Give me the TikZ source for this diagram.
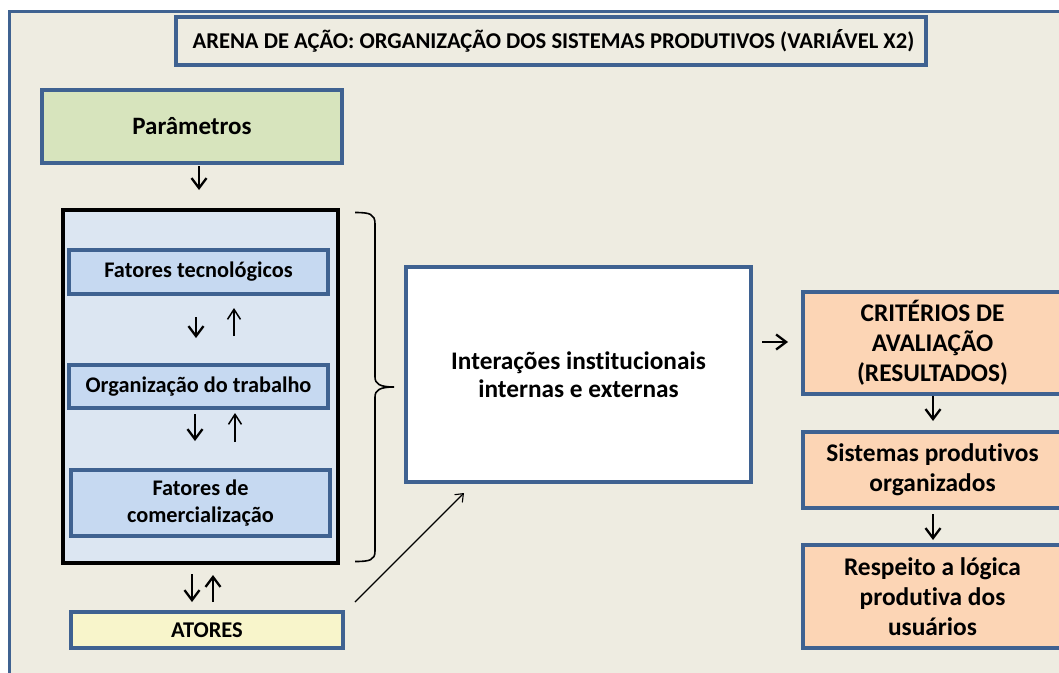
\documentclass[tikz,border=0pt]{standalone}
\usepackage{fontspec}
\setmainfont[Ligatures=NoCommon]{Carlito}
\usetikzlibrary{arrows.meta}
\definecolor{bgtan}{HTML}{EEECE1}
\definecolor{bord}{HTML}{3F6291}
\definecolor{green1}{HTML}{D7E4BD}
\definecolor{cont}{HTML}{DCE6F2}
\definecolor{inner}{HTML}{C6D9F1}
\definecolor{yel}{HTML}{F8F5CB}
\definecolor{orng}{HTML}{FCD5B5}
\begin{document}
\begin{tikzpicture}[x=1pt,y=-1pt,
  box/.style={draw=bord, line width=3.2, rectangle, inner sep=0, align=center, font=\bfseries\fontsize{22.3}{26.5}\selectfont},
  arr/.style={line width=2.3, -{Straight Barb[length=10,width=15,line width=2.3]}},
  thinarr/.style={line width=1.5, -{Straight Barb[length=10,width=13,line width=1.5]}}]
\useasboundingbox (0,0) rectangle (1059,672);
\clip (0,0) rectangle (1059,672);
\fill[white] (0,0) rectangle (1059,672);
\draw[fill=bgtan, draw=bord, line width=3.4] (9.5,11.5) rectangle (1090,700);

\node[box, fill=bgtan, minimum width=750, minimum height=48, font=\bfseries\fontsize{22.6}{26}\selectfont] (title) at (551,41) {\hspace{5pt}ARENA DE AÇÃO: ORGANIZAÇÃO DOS SISTEMAS PRODUTIVOS (VARIÁVEL X2)};
\node[box, fill=green1, minimum width=300, minimum height=73, font=\bfseries\fontsize{25}{29}\selectfont] (param) at (192,126.5) {Parâmetros};
\node[draw=black, line width=3.4, fill=cont, minimum width=275, minimum height=353, inner sep=0] (container) at (200.5,386.5) {};
\node[box, fill=inner, minimum width=259, minimum height=44] (ft) at (198.5,272) {Fatores tecnológicos};
\node[box, fill=inner, minimum width=259, minimum height=43] (ot) at (198.5,386.5) {Organização do trabalho};
\node[box, fill=inner, minimum width=259, minimum height=66] (fc) at (200.5,503) {Fatores de\\comercialização};
\node[box, fill=yel, minimum width=272, minimum height=36, font=\bfseries\fontsize{22.5}{26}\selectfont] (atores) at (207,630) {ATORES};
\node[box, fill=white, minimum width=345, minimum height=215, font=\bfseries\fontsize{25.3}{28}\selectfont] (inter) at (578.5,374.5) {Interações institucionais\\internas e externas};
\node[box, fill=orng, minimum width=259, minimum height=102, font=\bfseries\fontsize{25.4}{30}\selectfont] (crit) at (932.5,343) {CRITÉRIOS DE\\AVALIAÇÃO\\(RESULTADOS)};
\node[box, fill=orng, minimum width=259, minimum height=76, font=\bfseries\fontsize{25.4}{30}\selectfont] (sist) at (932.5,470) {Sistemas produtivos\\organizados};
\node[box, fill=orng, minimum width=259, minimum height=103, font=\bfseries\fontsize{25.4}{30}\selectfont] (resp) at (932.5,596.5) {Respeito a lógica\\produtiva dos\\usuários};

% brace
\draw[line width=1.6] (355,212.5) .. controls (370,212.5) and (375,214) .. (375,224)
  -- (375,377) .. controls (375,384) and (380,387) .. (394,387)
  .. controls (380,387) and (375,390) .. (375,397)
  -- (375,551) .. controls (375,560) and (370,561.5) .. (355,561.5);

% arrow coordinates
\coordinate (a1s) at (199,166); \coordinate (a1e) at (199,190);
\coordinate (a2s) at (196,317); \coordinate (a2e) at (196,338);
\coordinate (a3s) at (234,336); \coordinate (a3e) at (234,308);
\coordinate (a4s) at (195,414); \coordinate (a4e) at (195,441);
\coordinate (a5s) at (235,442); \coordinate (a5e) at (235,413);
\coordinate (a6s) at (192,574); \coordinate (a6e) at (192,602);
\coordinate (a7s) at (213,602); \coordinate (a7e) at (213,575);
\coordinate (a8s) at (762,342); \coordinate (a8e) at (788,342);
\coordinate (a9s) at (933,396); \coordinate (a9e) at (933,421);
\coordinate (a10s) at (933,514); \coordinate (a10e) at (933,540);
\coordinate (dgs) at (355,602); \coordinate (dge) at (464,493);

\draw[arr] (a1s) -- (a1e);
\draw[arr] (a2s) -- (a2e);
\draw[thinarr] (a3s) -- (a3e);
\draw[arr] (a4s) -- (a4e);
\draw[thinarr] (a5s) -- (a5e);
\draw[arr] (a6s) -- (a6e);
\draw[arr] (a7s) -- (a7e);
\draw[arr] (a8s) -- (a8e);
\draw[arr] (a9s) -- (a9e);
\draw[arr] (a10s) -- (a10e);
\draw[line width=1.1, -{Straight Barb[length=7,width=11,line width=1.1]}] (dgs) -- (dge);
\end{tikzpicture}
\end{document}
